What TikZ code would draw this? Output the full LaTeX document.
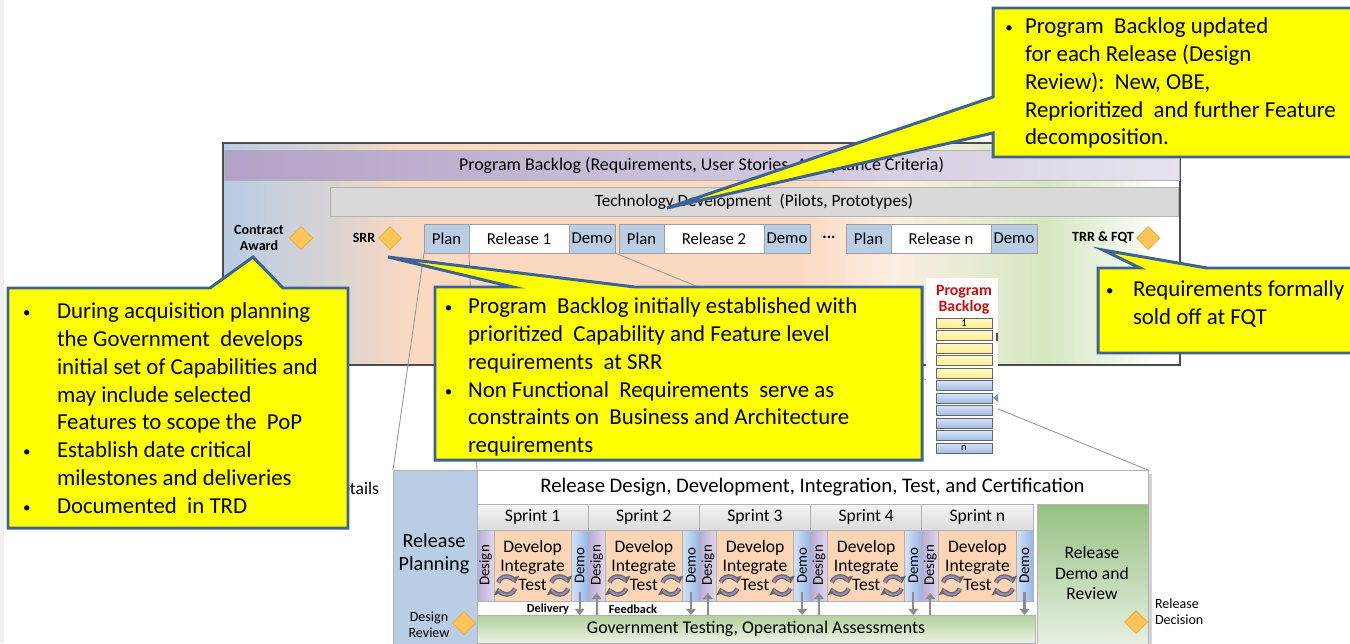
\documentclass[tikz,border=0pt]{standalone}
\usepackage{fontspec}
\setmainfont{Carlito}
\usepackage{graphicx}
\usetikzlibrary{shapes.geometric,arrows.meta,positioning,calc,shadows}

\newlength{\pxu}
\setlength{\pxu}{0.02cm}
\newcommand{\bul}[1]{\llap{\raisebox{0.6pt}{\fontsize{8.5}{8.5}\selectfont\textbullet}\hspace{#1}}}

% colours
\definecolor{noteFill}{RGB}{255,255,0}
\definecolor{noteEdge}{RGB}{62,98,148}
\definecolor{planBlue}{RGB}{185,205,229}
\definecolor{bandBlue}{RGB}{184,204,228}
\definecolor{bandPeach}{RGB}{251,217,192}
\definecolor{bandPale}{RGB}{253,238,226}
\definecolor{bandGreen}{RGB}{212,231,193}
\definecolor{bandMist}{RGB}{212,210,214}
\definecolor{backlogDark}{RGB}{178,162,199}
\definecolor{backlogLight}{RGB}{232,226,238}
\definecolor{techGrey}{RGB}{217,217,217}
\definecolor{mileGold}{RGB}{255,196,86}
\definecolor{mileEdge}{RGB}{232,170,70}
\definecolor{stackRed}{RGB}{200,16,16}
\definecolor{stackYellow}{RGB}{255,238,140}
\definecolor{stackBlue}{RGB}{160,188,232}
\definecolor{designPurple}{RGB}{185,170,212}
\definecolor{demoBlue}{RGB}{150,182,232}
\definecolor{buildPeach}{RGB}{252,213,180}
\definecolor{testGreen}{RGB}{178,208,155}
\definecolor{demoGreen}{RGB}{150,192,130}
\definecolor{arrowGrey}{RGB}{140,140,140}
\definecolor{cycleGrey}{RGB}{150,140,185}

% background band of the phase box
\pgfdeclarehorizontalshading{phaseband}{100bp}{%
  color(0bp)=(bandBlue); color(25bp)=(bandBlue); color(30bp)=(bandMist);
  color(35bp)=(bandPeach); color(55bp)=(bandPeach); color(60bp)=(bandPale);
  color(68bp)=(bandGreen); color(71.5bp)=(bandGreen!45!white); color(74bp)=(white);
  color(100bp)=(white)}

\begin{document}
\begin{tikzpicture}[
    x=0.02cm, y=-0.02cm,
    every node/.style={inner sep=0pt, outer sep=0pt},
    phase/.style={draw=black!70, line width=0.9pt, shade, shading=phaseband},
    band/.style={draw=gray!60, minimum height=29\pxu, font=\fontsize{9.8}{11}\selectfont},
    plan/.style={draw=gray!75, fill=planBlue, minimum width=45\pxu, minimum height=29\pxu, font=\fontsize{9.5}{11}\selectfont},
    release/.style={plan, fill=white, minimum width=100\pxu},
    demo/.style={plan, minimum width=46\pxu},
    milestone/.style={diamond, draw=mileEdge, fill=mileGold, minimum width=23\pxu, minimum height=23\pxu},
    mlabel/.style={font=\bfseries\fontsize{8}{9.6}\selectfont, align=center},
    zoomline/.style={gray!80, line width=0.5pt},
    stackbar/.style={draw=gray!80!black, minimum width=56\pxu, minimum height=10\pxu, font=\fontsize{6}{6}\selectfont},
    panel/.style={draw=gray!60},
    sprinthead/.style={panel, top color=gray!8, bottom color=gray!28, minimum width=111.2\pxu, minimum height=26\pxu, font=\fontsize{10}{12}\selectfont},
    designstrip/.style={panel, left color=designPurple, right color=designPurple!45, minimum width=17\pxu, minimum height=71\pxu},
    demostrip/.style={panel, left color=demoBlue!40, right color=demoBlue, minimum width=17\pxu, minimum height=71\pxu},
    buildbox/.style={panel, fill=buildPeach, minimum width=77.2\pxu, minimum height=71\pxu, align=center, font=\fontsize{10}{10.8}\selectfont},
    vlabel/.style={rotate=90, font=\fontsize{8.5}{9}\selectfont},
    flow/.style={arrowGrey, line width=1.2pt, -{Triangle[width=5.5pt,length=3.5pt]}},
    note/.style={fill=noteFill, draw=noteEdge, line width=1.7pt},
    notetext/.style={anchor=north west, align=left, font=\fontsize{13}{15.8}\selectfont},
    cycleicon/.pic={
      \foreach \a in {20,200} {
        \draw[black!60, line width=2.6pt, -{Triangle[width=6.5pt,length=3.5pt]}] (\a:9) arc (\a:\a+145:9);
        \draw[cycleGrey, line width=1.2pt] (\a:9) arc (\a:\a+132:9);
      }
    }
]

\useasboundingbox (0,0) rectangle (1350,643);
\fill[black!6] (0,0) rectangle (4,643);

% Phase box
\node[phase, minimum width=957\pxu, minimum height=222\pxu] (phaseBox) at (701.5,254) {};
\node[band, left color=backlogDark, right color=backlogLight, minimum width=955\pxu, minimum height=30\pxu, font=\fontsize{10.2}{11}\selectfont] (backlogBar) at (701.5,165) {Program Backlog (Requirements, User Stories, Acceptance Criteria)};
\node[band, fill=techGrey, minimum width=848\pxu] (techBar) at (754,201.5) {Technology Development\ \ (Pilots, Prototypes)};

% Milestones
\node[mlabel] (award) at (259,238) {Contract\\Award};
\node[milestone] (awardMark) at (301,238) {};
\node[mlabel] (srr) at (364,238) {SRR};
\node[milestone] (srrMark) at (390,238) {};
\node[mlabel] (fqt) at (1103,238) {TRR \& FQT};
\node[milestone] (fqtMark) at (1148,238) {};

% Releases
\node[plan] (planA) at (446.5,238.5) {Plan};
\node[release, right=0pt of planA] (releaseA) {Release 1};
\node[demo, right=0pt of releaseA] (demoA) {Demo};
\node[plan, right=4\pxu of demoA] (planB) {Plan};
\node[release, right=0pt of planB] (releaseB) {Release 2};
\node[demo, right=0pt of releaseB] (demoB) {Demo};
\node[font=\bfseries\fontsize{9.5}{11}\selectfont] (more) at (829,237) {...};
\node[plan, right=36\pxu of demoB] (planC) {Plan};
\node[release, right=0pt of planC] (releaseC) {Release n};
\node[demo, right=0pt of releaseC] (demoC) {Demo};

% Release detail panel
\node[panel, fill=white, drop shadow={shadow xshift=2pt, shadow yshift=-2pt, opacity=0.35}, anchor=north west, minimum width=755\pxu, minimum height=190\pxu] (releasePanel) at (393,470) {};
\node[panel, fill=planBlue, anchor=north west, minimum width=84\pxu, minimum height=190\pxu] (relPlan) at (393,470) {};
\node[font=\fontsize{11.5}{13}\selectfont, align=center] (relPlanText) at (434,553.5) {Release\\Planning};
\node[font=\fontsize{8}{9}\selectfont, align=center] (designReview) at (429,625) {Design\\Review};
\node[milestone] (reviewMark) at (464,623) {};
\node[anchor=north west, minimum width=671\pxu, minimum height=34\pxu, font=\fontsize{11.8}{13}\selectfont] (relHead) at (477,470) {Release Design, Development, Integration, Test, and Certification};

\foreach \lab [count=\i from 0] in {1,2,3,4,n} {
  \pgfmathsetmacro{\sx}{477+111.2*\i}
  \node[sprinthead, anchor=north west] (sprint\i) at (\sx,504) {Sprint \lab};
  \node[designstrip, anchor=north west] (design\i) at (sprint\i.south west) {};
  \node[buildbox, anchor=north west] (build\i) at (design\i.north east) {Develop\\Integrate\\Test};
  \node[demostrip, anchor=north west] (demo\i) at (build\i.north east) {};
  \node[vlabel] at (design\i) {Design};
  \node[vlabel] at (demo\i) {Demo};
  \pic at ($(build\i.center)+(-26,20)$) {cycleicon};
  \pic at ($(build\i.center)+(27,20)$) {cycleicon};
}

\node[font=\bfseries\fontsize{7}{8}\selectfont] (delivery) at (548,609) {Delivery};
\node[font=\bfseries\fontsize{7}{8}\selectfont] (feedback) at (633,609) {Feedback};

\node[panel, top color=testGreen, bottom color=testGreen!25, anchor=north west, minimum width=558\pxu, minimum height=28\pxu, font=\fontsize{10.2}{12}\selectfont] (govTest) at (477,615) {Government Testing, Operational Assessments};
\node[panel, top color=demoGreen, bottom color=demoGreen!18, anchor=north west, minimum width=111\pxu, minimum height=150\pxu] (relDemo) at (1037,504) {};
\node[font=\fontsize{10}{11.6}\selectfont, align=center] (relDemoText) at (1092,573) {Release\\Demo and\\Review};
\node[milestone] (decisionMark) at (1136,622) {};
\node[font=\fontsize{8}{9}\selectfont, align=left, anchor=west] (decision) at (1155,612) {Release\\Decision};

% Delivery and feedback
\foreach \i in {0,...,4}
  \draw[flow] ($(demo\i.south)+(0,-9)$) -- (demo\i.south |- govTest.north);
\foreach \i in {1,...,4}
  \draw[flow] (design\i.south |- govTest.north) -- ($(design\i.south)+(0,-8)$);

% Zoom lines
\draw[zoomline] (planA.south west) -- (relPlan.north west);
\draw[zoomline] (planA.south east) -- (relPlan.north east);
\draw[zoomline] (demoA.south east) -- (releasePanel.north east);

% Program backlog stack
\node[fill=white, minimum width=72\pxu, minimum height=178\pxu] (stack) at (962,367) {};
\node[font=\bfseries\fontsize{9}{9.2}\selectfont, text=stackRed, align=center] (stackTitle) at (964,300) {Program\\Backlog};
\foreach \k in {0,...,4}
  \node[stackbar, top color=stackYellow!45, bottom color=stackYellow] (item\k) at (964,{323+12.5*\k}) {};
\foreach \k in {5,...,10}
  \node[stackbar, top color=stackBlue!40, bottom color=stackBlue] (item\k) at (964,{323+12.5*\k}) {};
\node[font=\fontsize{6}{6}\selectfont] at (item0) {1};
\node[font=\fontsize{6}{6}\selectfont] at (item10) {n};
\draw[black!70, line width=0.6pt] (997,333) -- (997,341);
\fill[demoBlue!80!black] ($(item6.east)+(1,0)$) -- ++(5,-4) -- ++(0,8) -- cycle;

\node[font=\fontsize{10}{12}\selectfont, anchor=east] (detailsLabel) at (379,488) {Details};

% Notes
\coordinate (awardTip) at (253,257);
\coordinate (srrTip) at (388,257);
\coordinate (techTip) at (667,208);
\coordinate (fqtTip) at (1103,250);

\draw[note] (8,288) -- (210,288) -- (awardTip) -- (283,288) -- (348,288) -- (348,528) -- (8,528) -- cycle;
\node[notetext] (govNote) at (57,303) {\bul{15pt}During acquisition planning\\
  the Government\ \ develops\\
  initial set of Capabilities and\\
  may include selected\\
  Features to scope the\ \ PoP\\
  \bul{15pt}Establish date critical\\
  milestones and deliveries\\
  \bul{15pt}Documented\ \ in TRD};

\draw[note] (435,287) -- (513,287) -- (srrTip) -- (635,287) -- (922,287) -- (922,460) -- (435,460) -- cycle;
\node[notetext] (srrNote) at (468,298) {\bul{9pt}Program\ \ Backlog initially established with\\
  prioritized\ \ Capability and Feature level\\
  requirements\ \ at SRR\\
  \bul{9pt}Non Functional\ \ Requirements\ \ serve as\\
  constraints on\ \ Business and Architecture\\
  requirements};

\draw[note] (993,8) -- (1352,8) -- (1352,157) -- (993,157) -- (993,133) -- (techTip) -- (993,97) -- cycle;
\node[notetext] (updateNote) at (1025,18) {\bul{7pt}Program\ \ Backlog updated\\
  for each Release (Design\\
  Review):\ \ New, OBE,\\
  Reprioritized\ \ and further Feature\\
  decomposition.};

\draw[note] (1098,268) -- (1140,268) -- (fqtTip) -- (1207,268) -- (1352,268) -- (1352,353) -- (1098,353) -- cycle;
\node[notetext] (fqtNote) at (1133,281) {\bul{11pt}Requirements formally\\
  sold off at FQT};

\end{tikzpicture}
\end{document}
